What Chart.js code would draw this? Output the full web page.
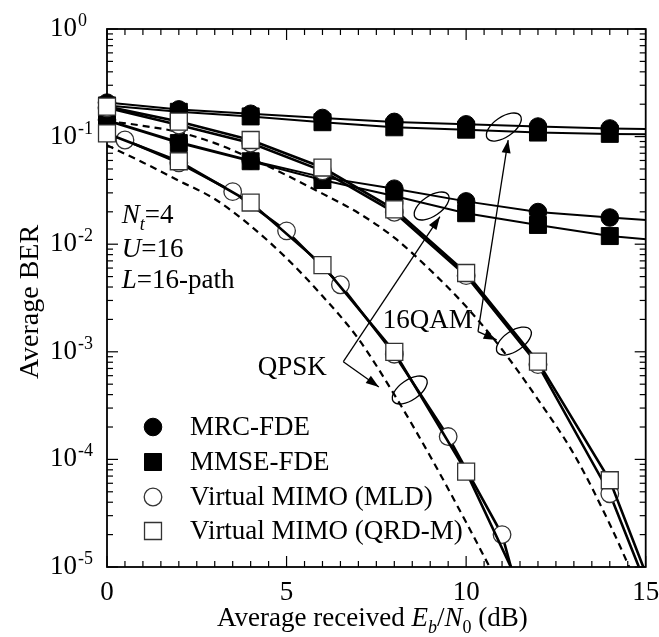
<!DOCTYPE html>
<html><head><meta charset="utf-8">
<script src="https://cdn.jsdelivr.net/npm/chart.js@4.4.0/dist/chart.umd.min.js"></script>
<style>html,body{margin:0;padding:0;background:#fff;}canvas{display:block;}</style>
</head><body>
<canvas id="c" width="659" height="637"></canvas>
<script>
// ---------- data (Eb/N0 in dB, BER) ----------
const snrFDE      = [0, 2, 4, 6, 8, 10, 12, 14, 16];
const qam16MRC    = [0.207, 0.179, 0.163, 0.149, 0.137, 0.130, 0.124, 0.119, 0.116];
const qam16MMSE   = [0.195, 0.170, 0.154, 0.136, 0.122, 0.116, 0.109, 0.106, 0.104];
const qpskMRC     = [0.143, 0.089, 0.060, 0.042, 0.0328, 0.025, 0.0199, 0.0177, 0.016];
const qpskMMSE    = [0.140, 0.087, 0.059, 0.0395, 0.028, 0.0194, 0.0151, 0.0119, 0.0104];

const snrVM16     = [0, 2, 4, 6, 8, 10, 12, 14, 16];
const qam16QRDM   = [0.19, 0.138, 0.093, 0.0516, 0.0211, 0.0054, 8.1e-4, 6.4e-5, 1.2e-6];
const qam16MLD    = [0.185, 0.128, 0.087, 0.048, 0.0198, 0.0051, 7.6e-4, 4.8e-5, 1.0e-6];

const snrQRDMqpsk = [0, 2, 4, 6, 8, 10, 12];
const qpskQRDM    = [0.107, 0.059, 0.0244, 0.0064, 1.0e-3, 7.7e-5, 2.9e-6];
const snrMLDqpsk  = [0.5, 2, 3.5, 5, 6.5, 8, 9.5, 11, 12.5];
const qpskMLD     = [0.093, 0.057, 0.0308, 0.0133, 0.0042, 9.5e-4, 1.63e-4, 2.0e-5, 3e-7];

const snrBoundQpsk = [0, 1, 2, 3, 4, 5, 6, 7, 8, 9, 10, 11];
const qpskBound    = [0.083, 0.0575, 0.0389, 0.0263, 0.0148, 0.0074, 0.0033, 0.00132, 4.0e-4, 1.07e-4, 2.6e-5, 6.0e-6];
const snrBound16   = [0, 1, 2, 3, 4, 5, 6, 7, 8, 9, 10, 11, 12, 13, 14, 15];
const qam16Bound   = [0.14, 0.126, 0.11, 0.087, 0.063, 0.0437, 0.0295, 0.0195, 0.0115, 0.00575, 0.00263, 0.00105, 3.6e-4, 1.12e-4, 2.5e-5, 4.5e-6];

// ---------- tick labels / texts ----------
const xTickValues = [0, 5, 10, 15];
const xTickLabels = ['0', '5', '10', '15'];
const yTickExponents = [0, -1, -2, -3, -4, -5];
const legendLabels = ['MRC-FDE', 'MMSE-FDE', 'Virtual MIMO (MLD)', 'Virtual MIMO (QRD-M)'];

// annotation anchors in data units [dB, BER]
const qpskLabelPos  = [4.2, Math.pow(10, -3.216)];
const qpskCorner    = [6.58, Math.pow(10, -3.092)];
const qpskTips      = [[9.27, Math.pow(10, -1.744)], [7.57, Math.pow(10, -3.327)]];
const qpskLoops     = [[9.04, Math.pow(10, -1.645)], [8.43, Math.pow(10, -3.355)]];
const qamLabelPos   = [7.68, Math.pow(10, -2.779)];
const qamCorner     = [10.33, Math.pow(10, -2.813)];
const qamTips       = [[11.17, Math.pow(10, -1.032)], [10.85, Math.pow(10, -2.89)]];
const qamLoops      = [[11.05, Math.pow(10, -0.911)], [11.33, Math.pow(10, -2.9)]];
const paramPos      = [0.41, [Math.pow(10, -1.803), Math.pow(10, -2.119), Math.pow(10, -2.407)]];

const SERIF = '"Liberation Serif", "Times New Roman", serif';
const BIG = 27, SMALL = 18;
const SQ_R = 12, CI_R = 8.8;

function pts(xs, ys) { return xs.map((v, i) => ({x: v, y: ys[i]})); }
const clipOpt = {left: 16, top: 16, right: 0, bottom: 0};

function openSet(label, xs, ys, style) {
  return {label, data: pts(xs, ys), borderColor: '#000', borderWidth: 2.6,
    pointStyle: style, pointRadius: style === 'rect' ? SQ_R : CI_R,
    pointBackgroundColor: '#fff', pointBorderColor: '#333', pointBorderWidth: 1.3,
    clip: clipOpt, tension: 0};
}
function filledSet(label, xs, ys, style) {
  return {label, data: pts(xs, ys), borderColor: '#000', borderWidth: 2,
    pointStyle: style, pointRadius: style === 'rect' ? SQ_R : CI_R,
    pointBackgroundColor: '#000', pointBorderColor: '#000', pointBorderWidth: 1,
    clip: clipOpt, tension: 0};
}
function boundSet(label, xs, ys) {
  return {label, data: pts(xs, ys), borderColor: '#000', borderWidth: 2.2,
    borderDash: [7, 5], pointRadius: 0, clip: clipOpt,
    cubicInterpolationMode: 'monotone'};
}

function font(size, italic) { return (italic ? 'italic ' : '') + size + 'px ' + SERIF; }

function drawRich(ctx, x, y, parts, align) {
  let w = 0;
  parts.forEach(p => { ctx.font = font(p.size || BIG, p.it); w += ctx.measureText(p.t).width; });
  let cx = align === 'center' ? x - w / 2 : x;
  ctx.textAlign = 'left';
  parts.forEach(p => {
    ctx.font = font(p.size || BIG, p.it);
    ctx.fillText(p.t, cx, y + (p.dy || 0));
    cx += ctx.measureText(p.t).width;
  });
}

function drawMarker(ctx, style, filled, x, y) {
  ctx.save();
  ctx.fillStyle = filled ? '#000' : '#fff';
  ctx.strokeStyle = filled ? '#000' : '#333';
  ctx.lineWidth = filled ? 1 : 1.3;
  ctx.beginPath();
  if (style === 'rect') {
    const s = SQ_R * Math.SQRT1_2;
    ctx.rect(x - s, y - s, 2 * s, 2 * s);
  } else {
    ctx.arc(x, y, CI_R, 0, Math.PI * 2);
  }
  ctx.fill(); ctx.stroke();
  ctx.restore();
}

function arrowHead(ctx, fx, fy, tx, ty) {
  const ang = Math.atan2(ty - fy, tx - fx), len = 13, half = 4.5;
  const bx = tx - len * Math.cos(ang), by = ty - len * Math.sin(ang);
  ctx.beginPath();
  ctx.moveTo(tx, ty);
  ctx.lineTo(bx + half * Math.sin(ang), by - half * Math.cos(ang));
  ctx.lineTo(bx - half * Math.sin(ang), by + half * Math.cos(ang));
  ctx.closePath(); ctx.fill();
}

const decor = {
  id: 'decor',
  beforeDatasetsDraw(chart) {
    const {ctx, chartArea: a, scales: {x, y}} = chart;
    ctx.save();
    ctx.strokeStyle = '#000';
    ctx.lineWidth = 1.2;
    const seg = (x1, y1, x2, y2) => { ctx.beginPath(); ctx.moveTo(x1, y1); ctx.lineTo(x2, y2); ctx.stroke(); };
    for (let k = 0; k <= 30; k++) {
      const v = k / 2;
      const px = x.getPixelForValue(v);
      const len = (k % 10 === 0) ? 11 : 6;
      seg(px, a.bottom, px, a.bottom - len);
      seg(px, a.top, px, a.top + len);
    }
    for (let e = -5; e <= 0; e++) {
      for (let m = 1; m <= 9; m++) {
        const v = m * Math.pow(10, e);
        if (v > 1.0001) break;
        const py = y.getPixelForValue(v);
        const len = m === 1 ? 11 : 6;
        seg(a.left, py, a.left + len, py);
        seg(a.right, py, a.right - len, py);
      }
    }
    ctx.lineWidth = 1.8;
    ctx.strokeRect(a.left, a.top, a.right - a.left, a.bottom - a.top);

    // tick labels
    ctx.fillStyle = '#000';
    ctx.textBaseline = 'alphabetic';
    ctx.font = font(BIG);
    ctx.textAlign = 'center';
    xTickValues.forEach((v, i) => ctx.fillText(xTickLabels[i], x.getPixelForValue(v), a.bottom + 33));
    yTickExponents.forEach(e => {
      const py = y.getPixelForValue(Math.pow(10, e));
      ctx.textAlign = 'left';
      ctx.font = font(BIG);
      ctx.fillText('10', 50, py + 7);
      const w = ctx.measureText('10').width;
      ctx.font = font(SMALL);
      ctx.fillText(e === 0 ? '0' : '-' + Math.abs(e), 50 + w + 1, py - 3);
    });

    // axis titles
    drawRich(ctx, (a.left + a.right) / 2 - 4, a.bottom + 59, [
      {t: 'Average received '}, {t: 'E', it: true}, {t: 'b', it: true, size: SMALL, dy: 7},
      {t: '/'}, {t: 'N', it: true}, {t: '0', size: SMALL, dy: 7}, {t: ' (dB)'}
    ], 'center');
    ctx.save();
    ctx.translate(38, (a.top + a.bottom) / 2 + 4);
    ctx.rotate(-Math.PI / 2);
    ctx.font = font(BIG + 1);
    ctx.textAlign = 'center';
    ctx.fillText('Average BER', 0, 0);
    ctx.restore();
    ctx.restore();
  },
  afterDatasetsDraw(chart) {
    const {ctx, chartArea: a, scales: {x, y}} = chart;
    const P = p => [x.getPixelForValue(p[0]), y.getPixelForValue(p[1])];
    ctx.save();
    ctx.fillStyle = '#000';
    ctx.strokeStyle = '#000';
    ctx.textBaseline = 'alphabetic';

    // parameters
    const px0 = x.getPixelForValue(paramPos[0]);
    const pys = paramPos[1].map(v => y.getPixelForValue(v));
    drawRich(ctx, px0, pys[0], [{t: 'N', it: true}, {t: 't', it: true, size: SMALL, dy: 7}, {t: '=4'}], 'left');
    drawRich(ctx, px0, pys[1], [{t: 'U', it: true}, {t: '=16'}], 'left');
    drawRich(ctx, px0, pys[2], [{t: 'L', it: true}, {t: '=16-path'}], 'left');

    // group labels, arrows and loops
    const groups = [
      {text: 'QPSK', pos: qpskLabelPos, corner: qpskCorner, tips: qpskTips, loops: qpskLoops},
      {text: '16QAM', pos: qamLabelPos, corner: qamCorner, tips: qamTips, loops: qamLoops}
    ];
    groups.forEach(g => {
      const [tx, ty] = P(g.pos);
      ctx.font = font(BIG);
      ctx.textAlign = 'left';
      ctx.fillText(g.text, tx, ty);
      const [cx, cy] = P(g.corner);
      ctx.lineWidth = 1.3;
      g.tips.forEach(t => {
        const [ex, ey] = P(t);
        ctx.beginPath(); ctx.moveTo(cx, cy); ctx.lineTo(ex, ey); ctx.stroke();
        arrowHead(ctx, cx, cy, ex, ey);
      });
      g.loops.forEach(l => {
        const [lx, ly] = P(l);
        ctx.beginPath();
        ctx.ellipse(lx, ly, 20, 10, -0.6, 0, Math.PI * 2);
        ctx.stroke();
      });
    });

    // legend
    const styles = [['circle', true], ['rect', true], ['circle', false], ['rect', false]];
    const rowOffsets = [140, 105, 70, 36];
    legendLabels.forEach((lab, i) => {
      const ly = a.bottom - rowOffsets[i];
      drawMarker(ctx, styles[i][0], styles[i][1], a.left + 46, ly);
      ctx.font = font(BIG);
      ctx.textAlign = 'left';
      ctx.textBaseline = 'middle';
      ctx.fillText(lab, a.left + 83, ly + 1);
      ctx.textBaseline = 'alphabetic';
    });
    ctx.restore();
  }
};

new Chart(document.getElementById('c'), {
  type: 'line',
  data: {
    datasets: [
      openSet('QPSK Virtual MIMO (QRD-M)', snrQRDMqpsk, qpskQRDM, 'rect'),
      openSet('QPSK Virtual MIMO (MLD)', snrMLDqpsk, qpskMLD, 'circle'),
      openSet('16QAM Virtual MIMO (QRD-M)', snrVM16, qam16QRDM, 'rect'),
      openSet('16QAM Virtual MIMO (MLD)', snrVM16, qam16MLD, 'circle'),
      filledSet('16QAM MRC-FDE', snrFDE, qam16MRC, 'circle'),
      filledSet('QPSK MRC-FDE', snrFDE, qpskMRC, 'circle'),
      filledSet('16QAM MMSE-FDE', snrFDE, qam16MMSE, 'rect'),
      filledSet('QPSK MMSE-FDE', snrFDE, qpskMMSE, 'rect'),
      boundSet('QPSK bound', snrBoundQpsk, qpskBound),
      boundSet('16QAM bound', snrBound16, qam16Bound)
    ]
  },
  options: {
    responsive: false,
    animation: false,
    devicePixelRatio: 1,
    layout: {padding: {left: 107, top: 29, right: 13, bottom: 70}},
    plugins: {legend: {display: false}, tooltip: {enabled: false}},
    scales: {
      x: {type: 'linear', min: 0, max: 15, display: false},
      y: {type: 'logarithmic', min: 1e-5, max: 1, display: false}
    }
  },
  plugins: [decor]
});
</script>
</body></html>
